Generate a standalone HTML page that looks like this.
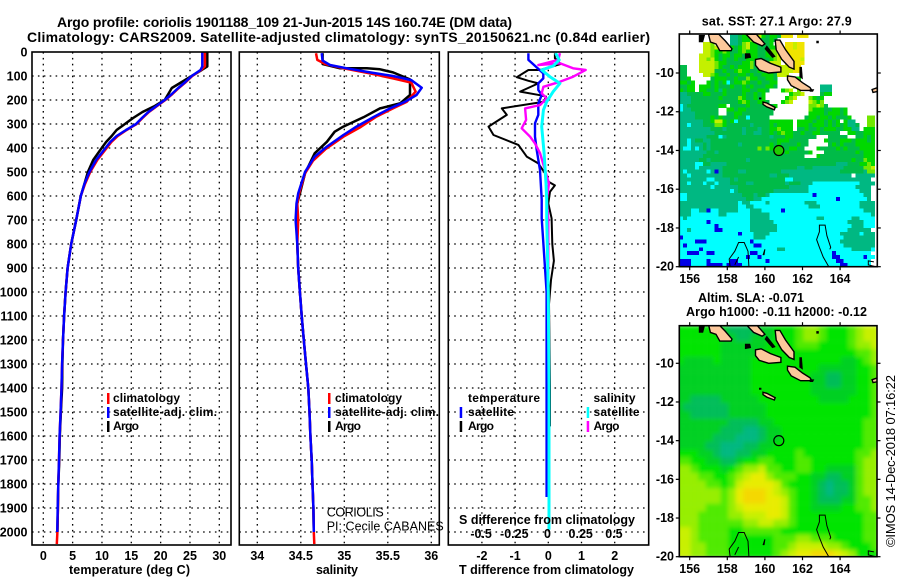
<!DOCTYPE html>
<html lang="en">
<head>
<meta charset="utf-8">
<title>Argo profile</title>
<style>
html,body{margin:0;padding:0;background:#fff;width:900px;height:580px;overflow:hidden}
svg{display:block}
text{font-family:"Liberation Sans",sans-serif;fill:#000}
.b{font-weight:bold;font-size:12.5px}
.l{font-weight:bold;font-size:12px}
.t{font-weight:bold;font-size:14px}
.r{font-size:12.5px}
.s{font-size:13px}
</style>
</head>
<body>
<svg id="fig" xmlns="http://www.w3.org/2000/svg" width="900" height="580" viewBox="0 0 900 580">
<defs>
<clipPath id="clipAlt"><rect x="679.3" y="325.7" width="197.7" height="231"/></clipPath>
<clipPath id="clipSst"><rect x="679.3" y="34" width="198" height="232.7"/></clipPath>
<filter id="soft" x="-5%" y="-5%" width="110%" height="110%"><feGaussianBlur stdDeviation="2.2"/></filter>
</defs>
<text class="t" x="57" y="27" textLength="455">Argo profile: coriolis 1901188_109 21-Jun-2015 14S 160.74E (DM data)</text>
<text class="t" x="27" y="42" textLength="623">Climatology: CARS2009. Satellite-adjusted climatology: synTS_20150621.nc (0.84d earlier)</text>
<g id="layer"></g>
<text class="b" x="69" y="574" textLength="121">temperature (deg C)</text>
<text class="b" x="316" y="574" textLength="42">salinity</text>
<text class="b" x="459" y="574" textLength="175">T difference from climatology</text>
<text class="b" x="459" y="524" textLength="176">S difference from climatology</text>
<text class="l" x="113" y="402" textLength="67">climatology</text>
<text class="l" x="113" y="416" textLength="104">satellite-adj. clim.</text>
<text class="l" x="113" y="430" textLength="26">Argo</text>
<text class="l" x="335" y="402" textLength="67">climatology</text>
<text class="l" x="335" y="416" textLength="104">satellite-adj. clim.</text>
<text class="l" x="335" y="430" textLength="26">Argo</text>
<text class="r" x="326.7" y="516.5" textLength="57">CORIOLIS</text>
<text class="r" x="326.7" y="530.5" textLength="117">PI: Cecile CABANES</text>
<text class="l" x="468" y="402" textLength="72">temperature</text>
<text class="l" x="468" y="416" textLength="46">satellite</text>
<text class="l" x="468" y="430" textLength="26">Argo</text>
<text class="l" x="593.5" y="402" textLength="42">salinity</text>
<text class="l" x="593.5" y="416" textLength="46">satellite</text>
<text class="l" x="593.5" y="430" textLength="26">Argo</text>
<text class="b" x="701.7" y="25.5" textLength="150">sat. SST: 27.1 Argo: 27.9</text>
<text class="b" x="698" y="302" textLength="106">Altim. SLA: -0.071</text>
<text class="b" x="686" y="316" textLength="181">Argo h1000: -0.11 h2000: -0.12</text>
<text class="s" transform="translate(895,547) rotate(-90)" textLength="172">©IMOS 14-Dec-2018 07:16:22</text>
</svg>
<script>
// ---- depth axis ----
const depthTicks = [0,100,200,300,400,500,600,700,800,900,1000,1100,1200,1300,1400,1500,1600,1700,1800,1900,2000];
// ---- temperature panel ----
const tempTicks = [0,5,10,15,20,25,30];
const tempDepths = [0,60,75,100,125,150,175,200,225,250,275,300,325,350,375,400,450,500,550,600,700,800,900,1000,1100,1200,1300,1400,1500,1600,1700,1800,1900,2000,2050];
const tempClim = [27.55,27.55,26.9,25.4,24.3,23.1,22,20.8,19.4,18,16.9,15.9,14.2,12.7,11.6,10.8,9.2,8,7.1,6.4,5.6,4.75,4.15,3.8,3.55,3.35,3.2,3.1,2.95,2.78,2.68,2.55,2.48,2.4,2.3];
const tempSat = [27.1,27.1,26.8,25.3,24.2,23,21.9,20.7,19.3,17.9,16.8,15.8,14.1,12.5,11.4,10.6,9,7.85,7,6.4,5.6,4.75,4.15,3.8,3.55,3.35,3.2,3.1,2.95,2.78,2.68,2.55,2.45,2.38];
const tempArgo = [27.95,27.95,27,25.3,23.6,21.9,21.3,20.7,19,16.9,15.3,13.9,12.5,11.65,10.7,9.95,8.5,7.6,7,6.4,5.6,4.75,4.15,3.8,3.55,3.35,3.25,3.2,3,2.82,2.72,2.55,2.48,2.4];
// ---- salinity panel ----
const salTicks = [34,34.5,35,35.5,36];
const salDeepDepths = [800,900,1000,1100,1200,1300,1400,1500,1600,1700,1800,1900,2000,2050];
const salDeep = [34.46,34.47,34.49,34.51,34.535,34.56,34.586,34.6,34.61,34.625,34.635,34.645,34.65,34.655];
const salClimDepths = [5,33,50,68,89,110,128,165,207,235,269,314,353,406,453,505,589,631,700];
const salClim = [34.675,34.69,34.78,34.99,35.295,35.56,35.77,35.82,35.72,35.56,35.37,35.18,34.99,34.78,34.64,34.55,34.48,34.46,34.47];
const salSatDepths = [5,36,54,68,85,100,117,149,179,207,235,272,311,346,394,436,499,589,631,700];
const salSat = [34.74,34.75,34.835,35.03,35.295,35.56,35.77,35.89,35.83,35.7,35.525,35.33,35.14,34.99,34.8,34.66,34.55,34.47,34.45,34.44];
const salArgoDepths = [5,50,68,68,72,85,114,179,214,235,272,311,332,374,422,505,575,631,700];
const salArgo = [34.75,34.75,34.95,35.26,35.41,35.56,35.755,35.755,35.64,35.41,35.22,34.99,34.89,34.8,34.66,34.55,34.5,34.46,34.45];
// ---- difference panel ----
const diffTTicks = [-2,-1,0,1,2];
const diffSTicks = [-0.5,-0.25,0,0.25,0.5];
const diffSTickLabels = ["-0.5","-0.25","0","0.25","0.5"];
const dTArgoDepths = [5,26,50,75,75,105,120,131,165,180,186,207,235,262,311,346,387,436,464,505,540,556,582,631,693,800,870,950,1050,1400,1560];
const dTArgo = [0.2,0.2,0.37,-0.25,-0.6,-0.95,-0.6,-0.3,-0.85,-0.25,-0.07,-0.13,-1.4,-1.25,-1.8,-1.65,-0.9,-0.65,-0.3,-0.1,0,0.2,0.05,0,0.1,0.12,0.17,0.08,0.02,0.05,0.05];
const dTSatDepths = [5,33,64,89,110,131,158,179,214,262,297,353,408,492,615,693,1000,1400,1854];
const dTSat = [-0.6,-0.6,-0.35,-0.15,-0.15,-0.3,-0.3,-0.2,-0.3,-0.3,-0.4,-0.4,-0.35,-0.25,-0.2,-0.2,-0.05,-0.05,-0.05];
const dSArgoDepths = [5,33,54,47,68,75,103,124,145,172,193,221,235,283,318,353,381,422,492,547,617,693,1000];
const dSArgo = [0.087,0.075,-0.075,0.087,0.187,0.282,0.187,0.087,-0.037,-0.05,-0.012,-0.062,-0.175,-0.167,-0.2,-0.137,-0.1,-0.062,-0.025,0.005,-0.012,0,0];
const dSSatDepths = [5,33,58,75,103,131,165,207,242,311,422,547,617,693,1000,1400,1990];
const dSSat = [0.055,0.082,0.037,-0.05,0.012,0.087,0.037,-0.012,-0.037,-0.05,-0.032,-0.017,-0.012,-0.012,0,0.005,0.005];
// ---- maps ----
const lonTicks = [156,158,160,162,164];
const latTicks = [-10,-12,-14,-16,-18,-20];
const sstColors = {b:"#0000e6",c:"#00ffff",t:"#00b882",e:"#00bb48",f:"#00d800",l:"#70e800",y:"#c4f000",Y:"#f0e400"};
const sstRows = [
".............ttefflyyfeffeYYY.YYY.................",
".............ttefflyfeefe.........................",
"......yyl....ttelyffeeef...YYyYY..................",
"......yylyflffeflyffeeeffl.YYyYY..................",
"......yylfflfeeflfffeeflly.YYYYY..................",
".....yyylfeffeffelffeeffly.yYYYY..................",
".....yylyfefeefeefffeeefly.yYYYy..................",
".....yyyylffeeeeffleffeyyy.YYYYY..................",
"ee...yyyylfeefeffflefeyyyyyyYYY...................",
"ee...yyyyeefeeflffeefeffeyyyyYY...................",
"ee....yylfeefeeffefeefffeyyy......................",
"eef.....efffeefeelffeeffe...eff...................",
"ffef...fefefcefflfeefeeff.........................",
"eeff.fffefeeefeefefeeeffe....lf.....ttt...........",
"feff.ffeeftfeeeeffeeffe...fly.l.....ttt...........",
"tteeeeffeeefeeeefeefef......flly....eff...........",
"ttteeeeeeefeeeelfeefef.....fly...lfef.............",
"ttteeeeeeeeeeeeflfeeffe...fly....ylfl.............",
"cteeeeeeeeff.eeeefeeeeeef........llyle............",
"ctteeeeeee..ffeffeeeeeee.........lfffeeffef.......",
"tttteeeeee..eeffeeeeeeee.........ffffefffef.......",
"tttteeeefefeeefeeceeeee.........effeffefeeef....ll",
"tttttteefyyfefceeeeeeeeffffff.ffffeffefef.ftt...ll",
"ttcttteeellfeeeeeeteeeefeffff.fffefffefefeftte..ll",
"tttttttteeeteeeeteeeteefflfff.eefeefefffeefftt.fff",
"ttttttttteeeeeeeteetteefeflffeefeeffeeeee..ffeefff",
"ttttttteeecteeeeeeeeeeeteeeffeeeeee...eeeee..eefef",
"ttcteetteeeeeeeeeeeeeeeeefffeeeee....feeefffefffef",
"ttcttteteeeeeeeteeeeeeefefeeeefee.....efefeeefffff",
"tcctcteteeeeeeeeeeeelelfeeeeffee...feeeefefeeeffff",
"ttttttteeteeeeeeeeeeeeeeeeefeeeeef...eeeeeeeefefff",
"tttttteeeeeeeeeeeeeeeeeeeeeeeeee...feeeeeeeeeeefff",
"ttttteeteeeeeeeeeteeeeeeeeeeeeeeeeeeeeeeeeeefeelff",
"ttttcceetttteeeeeeeeeeeeeeeeeeeeeeeeeeeettteeefflf",
"ttttctttttteeeeeeeeeeeeeeeeeeetteetttttttteeeeelly",
"tctttttctbteeeetteeeeeeeeettttttttttttttteeeeeetll",
"ttctttttttteeeeeeeeeeeetteeetttttttttttttttt.ttttt",
"tttttttcctttteteeeeeeeeeeeecctttttttttttttttttttt",
"ttctttcttcttteeeetteeeeeeeeteeetttcccccccccccctttt",
"ttttttttctttttteeeeeeeeeeeeetttttcccccccccccctttt",
"tttttttttttttcteeeeeeeeetttttttttcccccccccccccttt",
"cctttttttttttttteeeteetcccccccccccbcccccccccccctt",
"ccttttttttttttttteettcccccccccccccccccccbccccccct",
"tttttttttttttttcttcccctccccccccctttccccccccccctttt",
"tttttttttttttttccttcccccccccccccctttcccccccccctttt",
"tttccttbcctttttccctttcccccbccccccccccccccccccccttt",
"tttcccccccttcccccctttttcccccccccccccccccccccccccct",
"ctcccccccccccccccctttttccccccccccccttcccccccttcccc",
"cccccccbccccccccccttttttcccccccccccccccccccttttccc",
"cccccccccbcccccccctttttttccccccccccccccccccctttccc",
"cctccccccbbccccccctttttttcccccccccccccccccctttttt",
"cccccccccccccccbcccttttcccccccccccccccccctttttcttt",
"bcccccccccccccccccctttcccccccccccccccccccctttttttt",
"ccccbbbcccccccccccbccccccccccccccccccccccttttttttt",
"cbcccccccccccccccccbbccccccccccccccccccccctttttttt",
"cccccbcccccccccccccccccccttccccccccccccccccctttttc",
"ccbbbccbbcccccccccbbcccccccccccccccccccbccccccccc",
"cccccccccccccccccbccbccccccccccccccccccbbccccccbcc",
"bbbccccbcccccbbcccccccbcccccccccccccccccbbccccccc",
"bbbccccbbbbcbbbbcccccccccccccccccccccccccbbcccccc"
];
const altColors = ["#00b880","#00bd58","#00d020","#00e400","#50ea00","#96ee00","#c8f000","#e8ec00","#f4d800"];
const altRows = [
"333333211112233345543334566",
"333333221122233345543334566",
"333333222222333344433334556",
"333333222223333333333333445",
"322223222233333333333322345",
"222222222233333333322222334",
"222222222233333333221122334",
"222222222233333333221122334",
"222222222233333333222222334",
"221111222223333333322223334",
"211111122222333333333333334",
"221111122222333333333333334",
"222222211112233333333333344",
"222222111001223333333333344",
"222221110001223333333333344",
"222211000112233333333333344",
"333221001122333343333333445",
"443322112334433344333333455",
"554333234556443344332222455",
"555443345677544433221122455",
"555544346777764333210112455",
"555555457888765433210112455",
"555555457888776433211122445",
"555544456777776433222233445",
"555444455666776433333333344",
"555444444556655433333333344",
"665444433444443333333333344",
"665444433333344455444333344",
"665544433333344566665543334",
"665544433333345677888765333"
];
const islandNames = ["guadalcanal","malaita","makira","santa-isabel","choiseul","rennell","santa-cruz"];
const islandCoords = [
[[159.5,-9.3],[159.8,-9.25],[160.3,-9.5],[160.85,-9.7],[160.85,-9.95],[160.2,-10],[159.7,-9.85],[159.5,-9.6]],
[[160.55,-8.3],[160.8,-8.3],[161.1,-8.8],[161.55,-9.4],[161.55,-9.8],[161.3,-9.7],[160.9,-9.3],[160.6,-8.8]],
[[161.2,-10.15],[161.6,-10.2],[162,-10.5],[162.4,-10.75],[162.5,-10.9],[161.9,-10.9],[161.4,-10.65],[161.2,-10.35]],
[[159,-8],[159.55,-8],[160,-8.5],[159.85,-8.6],[159.4,-8.4]],
[[157,-8],[157.55,-8],[157.9,-8.35],[158.25,-8.75],[158.2,-8.85],[157.6,-8.85],[157.4,-8.5],[157.1,-8.4]],
[[159.9,-11.5],[160.1,-11.55],[160.55,-11.78],[160.5,-11.9],[160.1,-11.75],[159.9,-11.62]],
[[165.7,-10.85],[166,-10.75],[166,-10.95],[165.75,-11]]
];
const blackIslandCoords = [
[[156.5,-8.05],[156.8,-8.05],[156.7,-8.4],[156.5,-8.4]],
[[158.95,-9.0],[159.2,-9.0],[159.25,-9.2],[158.95,-9.25]],
[[161.85,-9.7],[161.95,-9.7],[162,-10.3],[161.85,-10.2]],
[[160.1,-8.6],[160.55,-9.15],[160.4,-9.2],[160,-8.75]],
[[162.4,-10.85],[162.6,-10.85],[162.55,-10.95],[162.4,-10.95]],
[[159.7,-11.28],[159.8,-11.28],[159.8,-11.35],[159.7,-11.35]],
[[162.75,-8.35],[162.85,-8.35],[162.85,-8.45],[162.75,-8.45]]
];
const reefCoords = [
[[163.4,-20],[163.1,-19.5],[162.9,-19],[162.75,-18.6],[162.9,-18.2],[162.9,-17.85],[163.2,-17.85],[163.3,-18.4],[163.5,-19],[163.45,-19.1]],
[[158.15,-20],[158.1,-19.6],[158.4,-19.2],[158.6,-18.75],[158.9,-18.75],[159.1,-19.2],[159.15,-20]],
[[158.4,-19.9],[158.6,-19.5]],
[[159.9,-19.4],[160,-19.1],[159.95,-19.4]],
[[165.9,-20],[165.5,-19.9],[165.5,-19.7],[165.8,-19.75]]
];
const argoLon = [160.74];
const argoLat = [-14];

const NS = "http://www.w3.org/2000/svg";
const layer = document.getElementById("layer");
const yD = d => 52 + 0.24 * d;
const xT = v => 43.3 + 5.867 * v;
const xS = v => 257.3 + 87 * (v - 34);
const xDT = v => 548.3 + 33.2 * v;
const xDS = v => 548.3 + 132.8 * v;
const xLon = v => 689.7 + 18.8 * (v - 156);
const yLat1 = v => 73 - 19.37 * (v + 10);
const yLat2 = v => 363.3 - 19.34 * (v + 10);

function el(tag, attrs, name, parent) {
  const e = document.createElementNS(NS, tag);
  for (const k in attrs) e.setAttribute(k, attrs[k]);
  
  
  (parent || layer).appendChild(e);
  return e;
}
function label(txt, x, y, anchor, name, cls) {
  const e = el("text", {x: x, y: y, "text-anchor": anchor, class: cls || "b"}, name);
  e.textContent = txt;
  return e;
}
function grid(xs, left, right, prefix) {
  depthTicks.slice(1).forEach(d => el("line", {x1: left, x2: right, y1: yD(d), y2: yD(d), stroke: "#000", "stroke-width": 1.3, "stroke-dasharray": "1.6 4.3"}, prefix + "-grid-depth-" + d));
  xs.forEach(x => el("line", {x1: x, x2: x, y1: 52, y2: 545, stroke: "#000", "stroke-width": 1.3, "stroke-dasharray": "1.6 4.3"}, prefix + "-grid-vertical"));
}
function frame(x, y, w, h, name) {
  el("rect", {x: x, y: y, width: w, height: h, fill: "none", stroke: "#000", "stroke-width": 1.6}, name);
}
function series(depths, values, xf, color, width, name) {
  const pts = values.map((v, i) => xf(v).toFixed(1) + "," + yD(depths[i]).toFixed(1)).join(" ");
  el("polyline", {points: pts, fill: "none", stroke: color, "stroke-width": width, "stroke-linejoin": "round"}, name);
}
function legendTick(x, y, color, name) {
  el("rect", {x: x - 1, y: y, width: 2.5, height: 11, fill: color}, name);
}

// temperature panel
grid(tempTicks.map(xT), 32, 231, "temperature");
series(tempDepths.slice(0, tempArgo.length), tempArgo, xT, "#000", 2.5, "temperature-argo-line");
series(tempDepths, tempClim, xT, "#f00", 2.5, "temperature-climatology-line");
series(tempDepths.slice(0, tempSat.length), tempSat, xT, "#00f", 2.5, "temperature-satellite-line");
frame(32, 52, 199, 493, "temperature-panel-frame");
depthTicks.forEach(d => label(String(d), 27.5, yD(d) + 4.5, "end", "depth-tick-label"));
tempTicks.forEach(t => label(String(t), xT(t), 560, "middle", "temperature-tick-label"));
legendTick(108, 393, "#f00", "legend-swatch-climatology");
legendTick(108, 407, "#00f", "legend-swatch-satellite-adj");
legendTick(108, 421, "#000", "legend-swatch-argo");

// salinity panel
grid(salTicks.map(xS), 239.3, 439.3, "salinity");
series(salArgoDepths.concat(salDeepDepths.slice(0, 13)), salArgo.concat(salDeep.slice(0, 13)), xS, "#000", 2.5, "salinity-argo-line");
series(salClimDepths.concat(salDeepDepths), salClim.concat(salDeep), xS, "#f00", 2.5, "salinity-climatology-line");
series(salSatDepths.concat(salDeepDepths.slice(0, 13)), salSat.concat(salDeep.slice(0, 13)), xS, "#00f", 2.5, "salinity-satellite-line");
frame(239.3, 52, 200, 493, "salinity-panel-frame");
salTicks.forEach(t => label(String(t), xS(t), 560, "middle", "salinity-tick-label"));
legendTick(329, 393, "#f00", "salinity-legend-swatch-climatology");
legendTick(329, 407, "#00f", "salinity-legend-swatch-satellite-adj");
legendTick(329, 421, "#000", "salinity-legend-swatch-argo");

// difference panel
grid(diffTTicks.map(xDT), 448.3, 648.7, "difference");
series(dTArgoDepths, dTArgo, xDT, "#000", 2, "t-difference-argo-line");
series(dTSatDepths, dTSat, xDT, "#00f", 2.4, "t-difference-satellite-line");
series(dSArgoDepths, dSArgo, xDS, "#f0f", 2.4, "s-difference-argo-line");
series(dSSatDepths, dSSat, xDS, "#0ff", 3, "s-difference-satellite-line");
frame(448.3, 52, 200.4, 493, "difference-panel-frame");
diffTTicks.forEach(t => label(String(t), xDT(t), 560, "middle", "t-difference-tick-label"));
diffSTicks.forEach((t, i) => label(diffSTickLabels[i], xDS(t) - 0.8, 538, "middle", "s-difference-tick-label"));
legendTick(460.7, 407, "#00f", "diff-legend-swatch-t-satellite");
legendTick(460.7, 421, "#000", "diff-legend-swatch-t-argo");
legendTick(587.7, 407, "#0ff", "diff-legend-swatch-s-satellite");
legendTick(587.7, 421, "#f0f", "diff-legend-swatch-s-argo");

// geography shared by the two maps
function coasts(yf, g, mapName) {
  reefCoords.forEach(c => {
    el("polyline", {points: c.map(p => xLon(p[0]).toFixed(1) + "," + yf(p[1]).toFixed(1)).join(" "), fill: "none", stroke: "#000", "stroke-width": 1}, mapName + "-reef-outline", g);
  });
  islandCoords.forEach((c, i) => {
    el("polygon", {points: c.map(p => xLon(p[0]).toFixed(1) + "," + yf(p[1]).toFixed(1)).join(" "), fill: "#fcc89b", stroke: "#000", "stroke-width": 1.4}, mapName + "-island-" + islandNames[i], g);
  });
  blackIslandCoords.forEach(c => {
    el("polygon", {points: c.map(p => xLon(p[0]).toFixed(1) + "," + yf(p[1]).toFixed(1)).join(" "), fill: "#000", stroke: "#000", "stroke-width": 0.6}, mapName + "-small-island", g);
  });
}
function mapAxes(left, top, w, h, yf, mapName, xLabelY) {
  el("rect", {x: left, y: top, width: w, height: h, fill: "none", stroke: "#000", "stroke-width": 1.6}, mapName + "-frame");
  lonTicks.forEach(l => {
    el("line", {x1: xLon(l), x2: xLon(l), y1: top + h, y2: top + h + 3.5, stroke: "#000", "stroke-width": 1.2}, mapName + "-bottom-tick");
    el("line", {x1: xLon(l), x2: xLon(l), y1: top, y2: top - 3.5, stroke: "#000", "stroke-width": 1.2}, mapName + "-top-tick");
    label(String(l), xLon(l), xLabelY, "middle", mapName + "-longitude-label");
  });
  latTicks.forEach(l => {
    el("line", {x1: left, x2: left - 3.5, y1: yf(l), y2: yf(l), stroke: "#000", "stroke-width": 1.2}, mapName + "-left-tick");
    el("line", {x1: left + w, x2: left + w + 3.5, y1: yf(l), y2: yf(l), stroke: "#000", "stroke-width": 1.2}, mapName + "-right-tick");
    label(String(l), 674, yf(l) + 4, "end", mapName + "-latitude-label");
  });
}

// SST map
const sstGroup = el("g", {"clip-path": "url(#clipSst)", "shape-rendering": "crispEdges"}, "sst-map-area");
sstRows.forEach((row, j) => {
  for (let i = 0; i < row.length; i++) {
    const c = sstColors[row[i]];
    if (!c) continue;
    el("rect", {x: (679.3 + i * 3.915).toFixed(2), y: (34 + j * 3.878).toFixed(2), width: 4, height: 4, fill: c}, "sst-cell", sstGroup);
  }
});
const sstCoast = el("g", {"clip-path": "url(#clipSst)"}, "sst-map-coastlines");
coasts(yLat1, sstCoast, "sst-map");
el("circle", {cx: xLon(argoLon[0]), cy: yLat1(argoLat[0]), r: 5, fill: "#22cc00", stroke: "#000", "stroke-width": 1.2}, "sst-map-argo-location");
mapAxes(679.3, 34, 198, 232.7, yLat1, "sst-map", 283);

// altimetry map
const altClip = el("g", {"clip-path": "url(#clipAlt)"}, "altimetry-map-area");
const altGroup = el("g", {filter: "url(#soft)"}, "altimetry-field", altClip);
altRows.forEach((row, j) => {
  for (let i = 0; i < row.length; i++) {
    el("rect", {x: (679.3 - 0.2 * 18.8 + i * 7.52).toFixed(2), y: (325.7 + j * 7.74).toFixed(2), width: 7.7, height: 7.9, fill: altColors[+row[i]]}, "altimetry-cell", altGroup);
  }
});
coasts(yLat2, altClip, "altimetry-map");
el("circle", {cx: xLon(argoLon[0]), cy: yLat2(argoLat[0]), r: 5, fill: "none", stroke: "#000", "stroke-width": 1.2}, "altimetry-map-argo-location");
mapAxes(679.3, 325.7, 197.7, 231, yLat2, "altimetry-map", 573);
</script>
</body>
</html>
